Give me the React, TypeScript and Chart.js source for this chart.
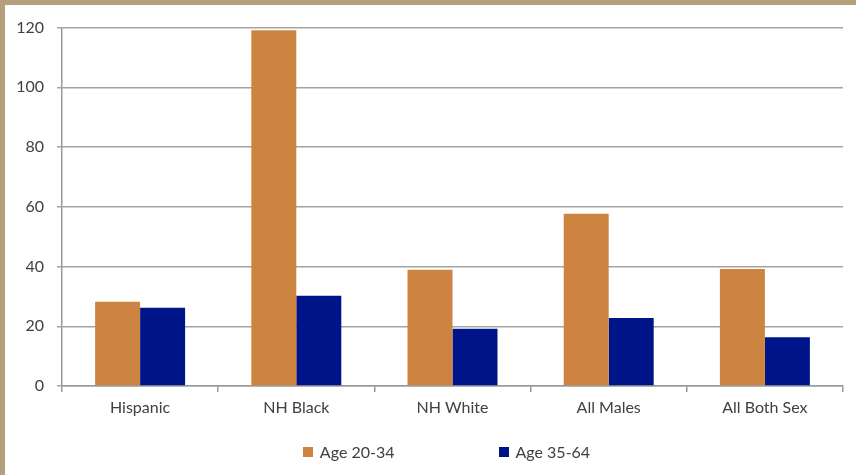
import React, { useEffect, useRef } from 'react';
import { Chart, registerables } from 'chart.js';

Chart.register(...registerables);

const categories = ['Hispanic', 'NH Black', 'NH White', 'All Males', 'All Both Sex'];
const age2034 = [28.2, 119.1, 38.9, 57.7, 39.2];
const age3564 = [26.2, 30.2, 19.2, 22.8, 16.3];
const seriesLabels = ['Age 20-34', 'Age 35-64'];
const seriesColors = ['#CE8441', '#00148A'];
const yMin = 0;
const yMax = 120;
const yStep = 20;

const FONT = 'Lato, "Open Sans", sans-serif';
const TEXT = '#404040';

const customLegend = {
  id: 'customLegend',
  afterDraw(chart: any) {
    const ctx = chart.ctx;
    const ds = chart.data.datasets;
    ctx.save();
    ctx.font = `16px ${FONT}`;
    ctx.textBaseline = 'middle';
    ctx.textAlign = 'left';
    const box = 10;
    const gapText = 7;
    const gapItem = 104;
    const widths = ds.map((d: any) => box + gapText + ctx.measureText(d.label).width);
    const total = widths.reduce((a: number, b: number) => a + b, 0) + gapItem * (ds.length - 1);
    const cx = (chart.chartArea.left + chart.chartArea.right) / 2 - 6;
    let x = cx - total / 2;
    const y = 447;
    ds.forEach((d: any, i: number) => {
      ctx.fillStyle = d.backgroundColor;
      ctx.fillRect(Math.round(x), y - 5, box, box);
      ctx.fillStyle = TEXT;
      ctx.fillText(d.label, x + box + gapText, y + 1);
      x += widths[i] + gapItem;
    });
    ctx.restore();
  },
};

export default function App() {
  const ref = useRef<HTMLCanvasElement | null>(null);

  useEffect(() => {
    if (!ref.current) return;
    const chart = new Chart(ref.current, {
      type: 'bar',
      data: {
        labels: categories,
        datasets: [
          { label: seriesLabels[0], data: age2034, backgroundColor: seriesColors[0], borderWidth: 0 },
          { label: seriesLabels[1], data: age3564, backgroundColor: seriesColors[1], borderWidth: 0 },
        ],
      },
      options: {
        responsive: false,
        animation: false,
        layout: { padding: { top: 21, right: 13, bottom: 0, left: 0 } },
        plugins: {
          legend: { display: false },
          tooltip: { enabled: false },
        },
        datasets: {
          bar: { categoryPercentage: 0.576, barPercentage: 1 },
        },
        scales: {
          x: {
            offset: true,
            grid: {
              offset: true,
              drawOnChartArea: false,
              drawTicks: true,
              tickLength: 6,
              color: '#9a9a9a',
              lineWidth: 1.5,
            },
            border: { display: true, color: '#9a9a9a', width: 1.5 },
            ticks: { color: TEXT, font: { family: FONT, size: 16 }, padding: 6, maxRotation: 0 },
            afterFit: (s: any) => { s.height = 89; },
          },
          y: {
            min: yMin,
            max: yMax,
            ticks: { stepSize: yStep, color: TEXT, font: { family: FONT, size: 16 }, padding: 13 },
            grid: { color: '#a3a3a3', lineWidth: 1.5, tickLength: 5, drawTicks: true },
            border: { display: true, color: '#9a9a9a', width: 1.5 },
            afterFit: (s: any) => { s.width = 57; },
          },
        },
      },
      plugins: [customLegend],
    });
    return () => chart.destroy();
  }, []);

  return (
    <div style={{ position: 'fixed', left: 0, top: 0, width: 856, height: 475, background: '#B5A07E' }}>
      <div style={{ position: 'absolute', left: 5, top: 5, width: 851, height: 470, background: '#FFFFFF' }}>
        <canvas ref={ref} width={851} height={470} style={{ display: 'block', width: 851, height: 470 }} />
      </div>
    </div>
  );
}
